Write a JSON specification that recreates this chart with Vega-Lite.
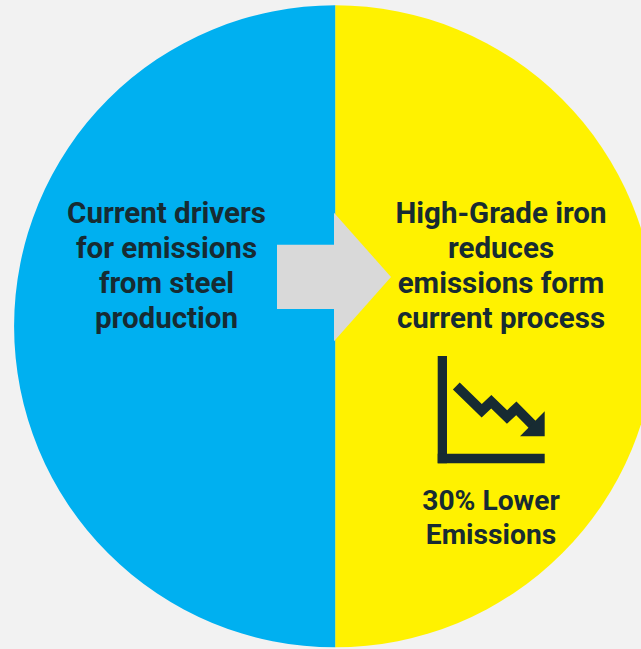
{
"$schema":"https://vega.github.io/schema/vega-lite/v6.json",
"width":641,"height":649,"padding":0,"autosize":{"type":"none"},
"background":"#f2f2f2",
"config":{"view":{"stroke":null}},
"encoding":{
 "x":{"type":"quantitative","scale":{"domain":[0,641],"nice":false,"zero":false},"axis":null},
 "y":{"type":"quantitative","scale":{"domain":[649,0],"nice":false,"zero":false},"axis":null}
},
"layer":[
{"data":{"values":[{"part":"High-Grade iron","share":50,"rank":1},{"part":"Current drivers","share":50,"rank":2}]},
 "mark":{"type":"arc","outerRadius":321,"clip":false},
 "encoding":{
  "x":{"datum":335.2},"y":{"datum":326.3},
  "theta":{"field":"share","type":"quantitative","stack":true},
  "order":{"field":"rank","type":"ordinal"},
  "color":{"field":"part","type":"nominal","legend":null,"scale":{"domain":["Current drivers","High-Grade iron"],"range":["#00b0f0","#fff200"]}}
 }},
{"data":{"values":[{"x":277,"x2":334.5,"y":244.7,"y2":309}]},
 "mark":{"type":"rect","color":"#d9d9d9"},
 "encoding":{"x":{"field":"x"},"x2":{"field":"x2"},"y":{"field":"y"},"y2":{"field":"y2"}}},
{"data":{"values":[{"x":334,"y":212.7,"y2":341.3},{"x":391,"y":277,"y2":277}]},
 "mark":{"type":"area","color":"#d9d9d9","orient":"vertical"},
 "encoding":{"x":{"field":"x"},"y":{"field":"y"},"y2":{"field":"y2"}}},
{"data":{"values":[{"x":437.7,"x2":447,"y":356,"y2":463.3},{"x":437.7,"x2":544.7,"y":453.7,"y2":463.3}]},
 "mark":{"type":"rect","color":"#172b32"},
 "encoding":{"x":{"field":"x"},"x2":{"field":"x2"},"y":{"field":"y"},"y2":{"field":"y2"}}},
{"data":{"values":[{"x":456.3,"y":386,"o":1},{"x":481.7,"y":410.7,"o":2},{"x":491.3,"y":401.7,"o":3},{"x":507,"y":417,"o":4},{"x":516.3,"y":408.3,"o":5},{"x":535,"y":427.3,"o":6}]},
 "mark":{"type":"line","color":"#172b32","strokeWidth":9.8,"strokeCap":"butt","strokeJoin":"miter"},
 "encoding":{"x":{"field":"x"},"y":{"field":"y"},"order":{"field":"o","type":"quantitative"}}},
{"data":{"values":[{"x":520,"y":436.3,"y2":436.3},{"x":544.7,"y":411.3,"y2":436.3}]},
 "mark":{"type":"area","color":"#172b32","orient":"vertical"},
 "encoding":{"x":{"field":"x"},"y":{"field":"y"},"y2":{"field":"y2"}}},
{"data":{"values":[
 {"t":"Current drivers","x":166.5,"y":214},
 {"t":"for emissions","x":166.5,"y":249},
 {"t":"from steel","x":166.5,"y":284},
 {"t":"production","x":166.5,"y":319},
 {"t":"High-Grade iron","x":501,"y":214},
 {"t":"reduces","x":501,"y":249},
 {"t":"emissions form","x":501,"y":284},
 {"t":"current process","x":501,"y":319}
]},
 "mark":{"type":"text","font":"Roboto","fontWeight":"bold","fontSize":29.5,"color":"#172b32","align":"center","baseline":"middle"},
 "encoding":{"x":{"field":"x"},"y":{"field":"y"},"text":{"field":"t"}}},
{"data":{"values":[
 {"t":"30% Lower","x":491,"y":502},
 {"t":"Emissions","x":491,"y":536}
]},
 "mark":{"type":"text","font":"Roboto","fontWeight":"bold","fontSize":28.2,"color":"#172b32","align":"center","baseline":"middle"},
 "encoding":{"x":{"field":"x"},"y":{"field":"y"},"text":{"field":"t"}}}
]
}
